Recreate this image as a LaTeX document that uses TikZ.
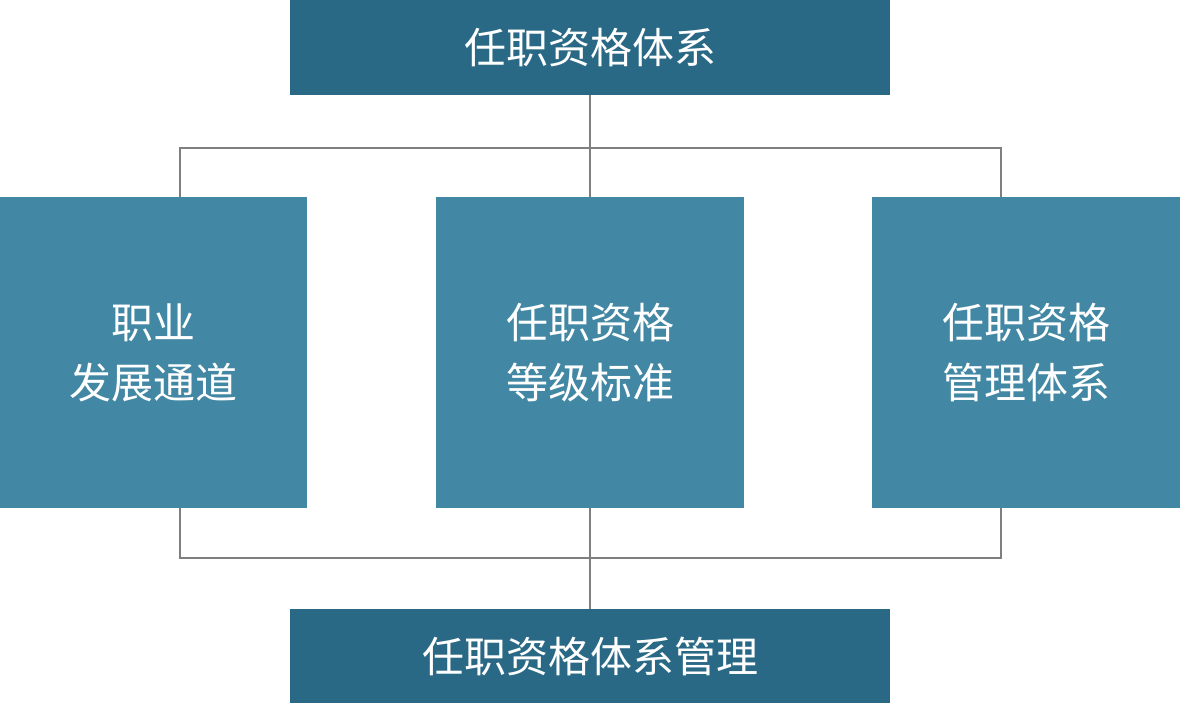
\documentclass[tikz,border=0pt]{standalone}
\usepackage{fontspec}
\newfontfamily\cjk{Noto Sans CJK SC}
\definecolor{darkbox}{HTML}{2A6985}
\definecolor{lightbox}{HTML}{4287A3}
\definecolor{linegray}{HTML}{7F7F7F}
\begin{document}
\begin{tikzpicture}[x=1pt,y=-1pt,
  box/.style={draw=none,text=white,inner sep=0pt,align=center,font=\cjk\fontsize{42}{60}\selectfont},
  conn/.style={draw=linegray,line width=2pt}]
\useasboundingbox (0,0) rectangle (1180,717);
\fill[darkbox] (290,0) rectangle (890,95);
\node[box] (top) at (590,47.5) {任职资格体系};
\fill[lightbox] (0,197) rectangle (307,508);
\node[box] (l) at (153.5,352.5) {职业\\发展通道};
\fill[lightbox] (436,197) rectangle (744,508);
\node[box] (m) at (590,352.5) {任职资格\\等级标准};
\fill[lightbox] (872,197) rectangle (1180,508);
\node[box] (r) at (1026,352.5) {任职资格\\管理体系};
\fill[darkbox] (290,609) rectangle (890,703);
\node[box] (bot) at (590,656) {任职资格体系管理};
\coordinate (tj) at (590,148);
\coordinate (bj) at (590,558);
\draw[conn] (590,95) -- (tj);
\draw[conn] (180,197) -- (180,148) -- (1001,148) -- (1001,197);
\draw[conn] (tj) -- (590,197);
\draw[conn] (180,508) -- (180,558) -- (1001,558) -- (1001,508);
\draw[conn] (590,508) -- (bj) -- (590,609);
\end{tikzpicture}
\end{document}
